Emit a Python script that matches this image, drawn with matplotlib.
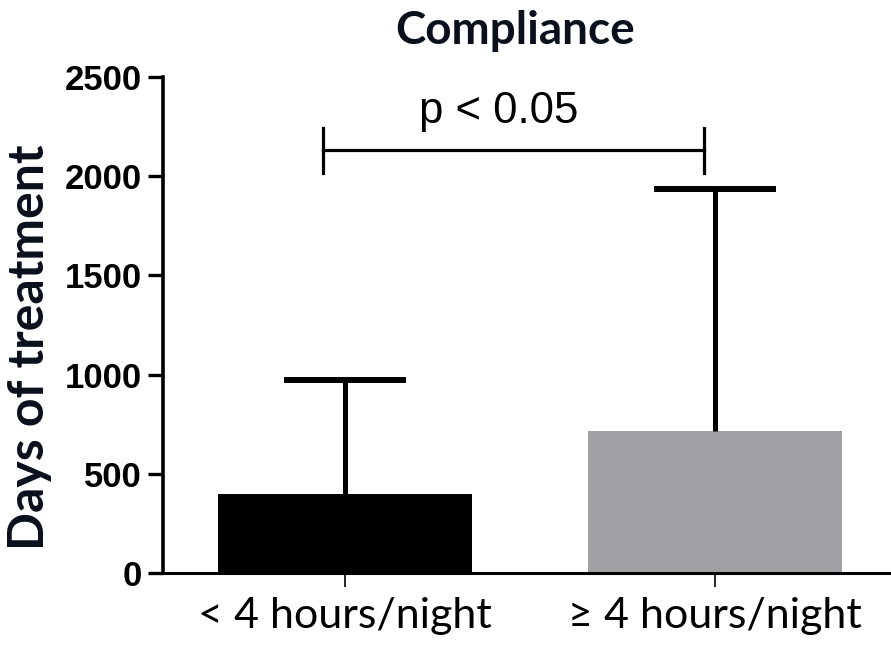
import matplotlib
matplotlib.use("Agg")
from matplotlib import pyplot as plt

categories = ['< 4 hours/night', '\u2265 4 hours/night']
means = [398, 716]
upper_err = [575, 1219]
bar_colors = ['black', '#a09fa4']
yticks = [0, 500, 1000, 1500, 2000, 2500]
bracket_y = 2130
bracket_text = 'p < 0.05'

fig = plt.figure(figsize=(8.91, 6.46), dpi=100)
ax = fig.add_axes([0.183, 0.113, 0.817, 0.768])

x = list(range(len(categories)))
ax.bar(x, means, width=0.685, color=bar_colors, zorder=2)
eb = ax.errorbar(x, means, yerr=[[0, 0], upper_err], fmt='none', ecolor='black',
                 elinewidth=3.6, capsize=44, capthick=4.3, zorder=3)
# only upper caps
eb[1][0].set_visible(False)

# significance bracket
ax.plot([-0.06, 0.97], [bracket_y, bracket_y], color='black', lw=2.3, clip_on=False)
ax.plot([-0.06, -0.06], [bracket_y - 112, bracket_y + 112], color='black', lw=2.3, clip_on=False)
ax.plot([0.97, 0.97], [bracket_y - 112, bracket_y + 112], color='black', lw=2.3, clip_on=False)
ax.text(0.415, bracket_y + 92, bracket_text, ha='center', va='bottom',
        fontsize=31.5, family='Liberation Sans')

ax.set_xlim(-0.492, 1.476)
ax.set_ylim(0, 2500)
ax.set_yticks(yticks)
ax.set_yticklabels([str(t) for t in yticks], fontsize=25, family='Liberation Sans',
                   fontweight='bold')
ax.set_xticks(x)
ax.set_xticklabels(categories, fontsize=31, family=['Lato', 'DejaVu Sans'])

for s in ['top', 'right']:
    ax.spines[s].set_visible(False)
ax.spines['left'].set_linewidth(2.6)
ax.spines['bottom'].set_linewidth(2.2)
ax.tick_params(axis='y', length=11, width=2.4, pad=4)
ax.tick_params(axis='x', length=10, width=1.2, pad=7)

ax.set_ylabel('Days of treatment', fontsize=36, fontweight='bold',
              family='Lato', color='#0a0f1e')
ax.yaxis.set_label_coords(-0.153, 0.456)
fig.text(0.578, 0.952, 'Compliance', ha='center', va='center', fontsize=33,
         fontweight='bold', family='Lato', color='#0a0f1e')

fig.savefig('out.png', dpi=100)
